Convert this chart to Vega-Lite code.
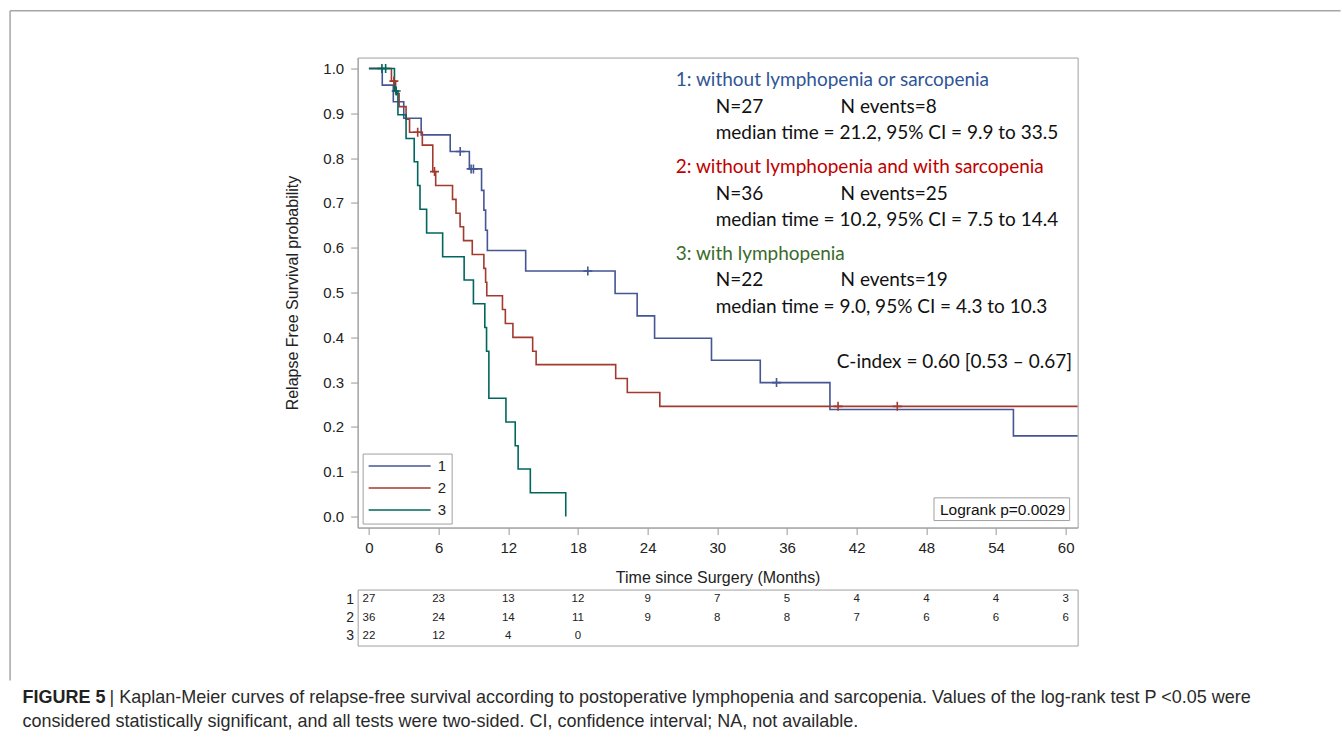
{
  "$schema": "https://vega.github.io/schema/vega-lite/v6.json",
  "padding": {"left": 8.65, "top": 9.55, "right": 0, "bottom": 0},
  "autosize": {"type": "pad"},
  "background": "white",
  "bounds": "flush",
  "spacing": 62,
  "config": {
    "font": "Liberation Sans",
    "axis": {"grid": false}
  },
  "datasets": {
    "km": [
      {"g":"1","t":0,"s":1},{"g":"1","t":1.15,"s":0.963},{"g":"1","t":2.1,"s":0.926},{"g":"1","t":3.0,"s":0.889},{"g":"1","t":4.5,"s":0.852},{"g":"1","t":7.0,"s":0.815},{"g":"1","t":8.65,"s":0.776},{"g":"1","t":9.7,"s":0.728},{"g":"1","t":9.9,"s":0.684},{"g":"1","t":10.05,"s":0.639},{"g":"1","t":10.2,"s":0.594},{"g":"1","t":13.5,"s":0.548},{"g":"1","t":21.2,"s":0.498},{"g":"1","t":23.1,"s":0.448},{"g":"1","t":24.6,"s":0.398},{"g":"1","t":29.5,"s":0.349},{"g":"1","t":33.7,"s":0.299},{"g":"1","t":39.7,"s":0.239},{"g":"1","t":55.5,"s":0.18},{"g":"1","t":61.03,"s":0.18},
      {"g":"2","t":0,"s":1},{"g":"2","t":1.94,"s":0.972},{"g":"2","t":2.3,"s":0.944},{"g":"2","t":2.6,"s":0.915},{"g":"2","t":3.2,"s":0.887},{"g":"2","t":3.5,"s":0.858},{"g":"2","t":4.6,"s":0.829},{"g":"2","t":5.5,"s":0.77},{"g":"2","t":5.75,"s":0.739},{"g":"2","t":7.2,"s":0.708},{"g":"2","t":7.5,"s":0.677},{"g":"2","t":7.85,"s":0.647},{"g":"2","t":8.15,"s":0.616},{"g":"2","t":8.9,"s":0.585},{"g":"2","t":9.9,"s":0.554},{"g":"2","t":10.05,"s":0.523},{"g":"2","t":10.15,"s":0.493},{"g":"2","t":11.5,"s":0.462},{"g":"2","t":11.75,"s":0.431},{"g":"2","t":12.4,"s":0.4},{"g":"2","t":14.1,"s":0.369},{"g":"2","t":14.4,"s":0.339},{"g":"2","t":21.25,"s":0.308},{"g":"2","t":22.25,"s":0.277},{"g":"2","t":25.05,"s":0.246},{"g":"2","t":61.03,"s":0.246},
      {"g":"3","t":0,"s":1},{"g":"3","t":2.2,"s":0.95},{"g":"3","t":2.5,"s":0.897},{"g":"3","t":3.2,"s":0.844},{"g":"3","t":3.9,"s":0.792},{"g":"3","t":4.2,"s":0.739},{"g":"3","t":4.4,"s":0.686},{"g":"3","t":4.97,"s":0.633},{"g":"3","t":6.35,"s":0.58},{"g":"3","t":8.2,"s":0.528},{"g":"3","t":9.0,"s":0.475},{"g":"3","t":9.98,"s":0.422},{"g":"3","t":10.13,"s":0.369},{"g":"3","t":10.33,"s":0.264},{"g":"3","t":11.8,"s":0.211},{"g":"3","t":12.6,"s":0.158},{"g":"3","t":12.85,"s":0.106},{"g":"3","t":13.9,"s":0.053},{"g":"3","t":16.95,"s":0}
    ],
    "censor": [
      {"g":"1","t":7.86,"s":0.815},{"g":"1","t":8.8,"s":0.776},{"g":"1","t":9.0,"s":0.776},{"g":"1","t":18.85,"s":0.548},{"g":"1","t":35.1,"s":0.299},
      {"g":"2","t":2.15,"s":0.972},{"g":"2","t":4.2,"s":0.858},{"g":"2","t":5.65,"s":0.77},{"g":"2","t":40.4,"s":0.246},{"g":"2","t":45.5,"s":0.246},
      {"g":"3","t":1.12,"s":1},{"g":"3","t":1.44,"s":1},{"g":"3","t":2.35,"s":0.95}
    ],
    "notes": [
      {"c":"1","t":26.42,"s":0.975,"label":"1: without lymphopenia or sarcopenia"},
      {"c":"k","t":29.86,"s":0.914,"label":"N=27"},
      {"c":"k","t":40.62,"s":0.914,"label":"N events=8"},
      {"c":"k","t":29.86,"s":0.856,"label":"median time = 21.2, 95% CI = 9.9 to 33.5"},
      {"c":"2","t":26.42,"s":0.78,"label":"2: without lymphopenia and with sarcopenia"},
      {"c":"k","t":29.86,"s":0.72,"label":"N=36"},
      {"c":"k","t":40.62,"s":0.72,"label":"N events=25"},
      {"c":"k","t":29.86,"s":0.662,"label":"median time = 10.2, 95% CI = 7.5 to 14.4"},
      {"c":"3","t":26.42,"s":0.586,"label":"3: with lymphopenia"},
      {"c":"k","t":29.86,"s":0.527,"label":"N=22"},
      {"c":"k","t":40.62,"s":0.527,"label":"N events=19"},
      {"c":"k","t":29.86,"s":0.467,"label":"median time = 9.0, 95% CI = 4.3 to 10.3"},
      {"c":"k","t":40.28,"s":0.344,"label":"C-index = 0.60 [0.53 – 0.67]"}
    ],
    "logrank": [{"t":48.66,"t2":60.34,"s":-0.009,"s2":0.0417,"tx":49.17,"sy":0.015,"label":"Logrank p=0.0029"}],
    "frame": [
      {"t":-30.9,"t2":83.67,"s":1.1288,"s2":1.1288},
      {"t":-30.9,"t2":-30.9,"s":1.1288,"s2":-0.366}
    ],
    "risk": [
      {"g":"1","t":0,"n":"27"},{"g":"1","t":6,"n":"23"},{"g":"1","t":12,"n":"13"},{"g":"1","t":18,"n":"12"},{"g":"1","t":24,"n":"9"},{"g":"1","t":30,"n":"7"},{"g":"1","t":36,"n":"5"},{"g":"1","t":42,"n":"4"},{"g":"1","t":48,"n":"4"},{"g":"1","t":54,"n":"4"},{"g":"1","t":60,"n":"3"},
      {"g":"2","t":0,"n":"36"},{"g":"2","t":6,"n":"24"},{"g":"2","t":12,"n":"14"},{"g":"2","t":18,"n":"11"},{"g":"2","t":24,"n":"9"},{"g":"2","t":30,"n":"8"},{"g":"2","t":36,"n":"8"},{"g":"2","t":42,"n":"7"},{"g":"2","t":48,"n":"6"},{"g":"2","t":54,"n":"6"},{"g":"2","t":60,"n":"6"},
      {"g":"3","t":0,"n":"22"},{"g":"3","t":6,"n":"12"},{"g":"3","t":12,"n":"4"},{"g":"3","t":18,"n":"0"}
    ],
    "caption": [
      {"t":-29.82,"line":"1","w":"b","text":"FIGURE 5"},
      {"t":-22.33,"line":"1","w":"n","text":"| Kaplan-Meier curves of relapse-free survival according to postoperative lymphopenia and sarcopenia. Values of the log-rank test P <0.05 were"},
      {"t":-29.82,"line":"2","w":"n","text":"considered statistically significant, and all tests were two-sided. CI, confidence interval; NA, not available."}
    ]
  },
  "vconcat": [
    {
      "width": 720,
      "height": 470,
      "view": {"stroke": "#a0a0a0", "strokeWidth": 1},
      "layer": [
        {
          "data": {"name": "km"},
          "mark": {"type": "line", "interpolate": "step-after", "strokeWidth": 1.6},
          "encoding": {
            "x": {"field": "t", "type": "quantitative", "scale": {"domain": [-0.97, 61.03], "nice": false, "zero": false},
                  "axis": {"title": "Time since Surgery (Months)", "values": [0,6,12,18,24,30,36,42,48,54,60], "labelFont": "Liberation Sans", "labelFontSize": 15, "labelColor": "#222", "tickColor": "#999", "tickSize": 7, "domainColor": "#a0a0a0", "labelPadding": 6, "titleFont": "Liberation Sans", "titleFontSize": 16, "titleFontWeight": "normal", "titleColor": "#222", "titlePadding": 14}},
            "y": {"field": "s", "type": "quantitative", "scale": {"domain": [-0.0246, 1.0246], "nice": false, "zero": false},
                  "axis": {"title": "Relapse Free Survival probability", "values": [0,0.1,0.2,0.3,0.4,0.5,0.6,0.7,0.8,0.9,1.0], "format": ".1f", "labelFont": "Liberation Sans", "labelFontSize": 15, "labelColor": "#222", "tickColor": "#999", "tickSize": 7, "domainColor": "#a0a0a0", "labelPadding": 7, "titleFont": "Liberation Sans", "titleFontSize": 16, "titleFontWeight": "normal", "titleColor": "#222", "titlePadding": 22}},
            "color": {"field": "g", "type": "nominal", "scale": {"domain": ["1","2","3"], "range": ["#445694","#A23A2E","#01665E"]},
                      "legend": {"title": null, "orient": "none", "legendX": 5, "legendY": 396, "symbolType": "stroke", "symbolSize": 3844, "clipHeight": 15, "symbolStrokeWidth": 1.6, "labelFont": "Liberation Sans", "labelFontSize": 15, "labelColor": "#222", "labelOffset": 6, "padding": 5, "rowPadding": 6, "strokeColor": "#a0a0a0", "fillColor": "white"}}
          }
        },
        {
          "data": {"name": "censor"},
          "mark": {"type": "point", "shape": "M-1,0L1,0M0,-1L0,1", "size": 81, "strokeWidth": 1.6, "filled": false, "opacity": 1},
          "encoding": {
            "x": {"field": "t", "type": "quantitative"},
            "y": {"field": "s", "type": "quantitative"},
            "stroke": {"field": "g", "type": "nominal", "scale": {"domain": ["1","2","3"], "range": ["#445694","#A23A2E","#01665E"]}, "legend": null}
          }
        },
        {
          "data": {"name": "frame"},
          "mark": {"type": "rule", "color": "#a6a6a6", "strokeWidth": 1.5},
          "encoding": {
            "x": {"field": "t", "type": "quantitative"},
            "x2": {"field": "t2"},
            "y": {"field": "s", "type": "quantitative"},
            "y2": {"field": "s2"}
          }
        },
        {
          "data": {"name": "notes"},
          "mark": {"type": "text", "font": "Lato", "fontSize": 19, "align": "left", "baseline": "middle"},
          "encoding": {
            "x": {"field": "t", "type": "quantitative"},
            "y": {"field": "s", "type": "quantitative"},
            "text": {"field": "label"},
            "fill": {"field": "c", "type": "nominal", "scale": {"domain": ["1","2","3","k"], "range": ["#2F5597","#C00000","#3B6B2B","#111111"]}, "legend": null}
          }
        },
        {
          "data": {"name": "logrank"},
          "mark": {"type": "rect", "fill": "white", "stroke": "#a0a0a0", "strokeWidth": 1},
          "encoding": {
            "x": {"field": "t", "type": "quantitative"},
            "x2": {"field": "t2"},
            "y": {"field": "s", "type": "quantitative"},
            "y2": {"field": "s2"}
          }
        },
        {
          "data": {"name": "logrank"},
          "mark": {"type": "text", "font": "Liberation Sans", "fontSize": 15.5, "align": "left", "baseline": "middle", "color": "#111"},
          "encoding": {
            "x": {"field": "tx", "type": "quantitative"},
            "y": {"field": "sy", "type": "quantitative"},
            "text": {"field": "label"}
          }
        }
      ]
    },
    {
      "width": 720,
      "height": 56,
      "view": {"stroke": "#a0a0a0", "strokeWidth": 1},
      "data": {"name": "risk"},
      "mark": {"type": "text", "font": "Liberation Sans", "fontSize": 11.5, "color": "#222", "baseline": "middle"},
      "encoding": {
        "x": {"field": "t", "type": "quantitative", "scale": {"domain": [-0.97, 61.03], "nice": false, "zero": false}, "axis": null},
        "y": {"field": "g", "type": "ordinal", "scale": {"type": "point", "padding": 0.55}, "axis": {"title": null, "ticks": false, "domain": false, "labelFont": "Liberation Sans", "labelFontSize": 14, "labelColor": "#222", "labelPadding": 4}},
        "text": {"field": "n"}
      }
    },
    {
      "width": 720,
      "height": 24,
      "view": {"stroke": null},
      "data": {"name": "caption"},
      "encoding": {
        "x": {"field": "t", "type": "quantitative", "scale": {"domain": [-0.97, 61.03], "nice": false, "zero": false}, "axis": null},
        "y": {"field": "line", "type": "ordinal", "scale": {"type": "point", "padding": 0}, "axis": null},
        "text": {"field": "text"}
      },
      "layer": [
        {
          "transform": [{"filter": "datum.w === 'b'"}],
          "mark": {"type": "text", "font": "Liberation Sans", "fontSize": 18, "fontWeight": "bold", "align": "left", "baseline": "middle", "dy": -10, "color": "#222"}
        },
        {
          "transform": [{"filter": "datum.w === 'n'"}],
          "mark": {"type": "text", "font": "Liberation Sans", "fontSize": 18, "align": "left", "baseline": "middle", "dy": -10, "color": "#2a2a2a"}
        }
      ]
    }
  ]
}
